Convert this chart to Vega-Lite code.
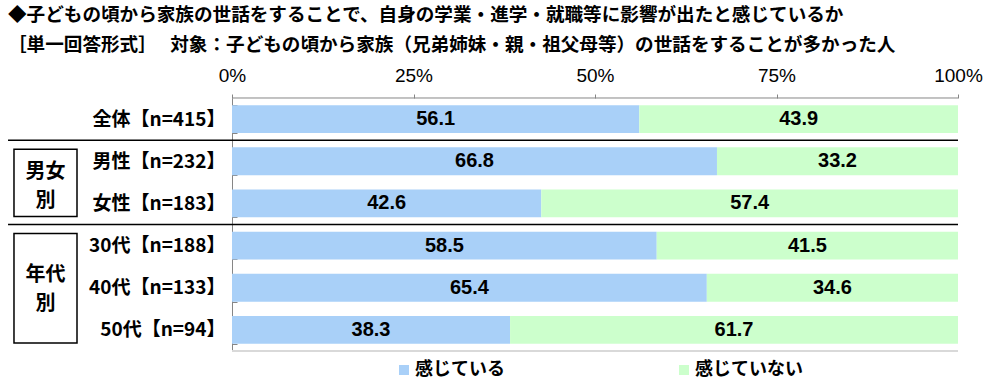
{
  "$schema": "https://vega.github.io/schema/vega-lite/v6.json",
  "width": 952,
  "height": 253,
  "autosize": {"type": "none"},
  "padding": {"left": 6, "top": 98, "right": 42, "bottom": 37},
  "background": "white",
  "title": {
    "text": ["◆子どもの頃から家族の世話をすることで、自身の学業・進学・就職等に影響が出たと感じているか", "［単一回答形式］　 対象：子どもの頃から家族（兄弟姉妹・親・祖父母等）の世話をすることが多かった人"],
    "anchor": "start",
    "frame": "group",
    "font": "Noto Sans CJK JP",
    "fontSize": 18.6,
    "fontWeight": "bold",
    "lineHeight": 30,
    "offset": 11,
    "dx": 2,
    "color": "black"
  },
  "config": {"view": {"stroke": null}, "font": "Noto Sans CJK JP"},
  "datasets": {
    "main": [
      {"c": "全体【n=415】", "r": "感じている", "v": 56.1},
      {"c": "全体【n=415】", "r": "感じていない", "v": 43.9},
      {"c": "男性【n=232】", "r": "感じている", "v": 66.8},
      {"c": "男性【n=232】", "r": "感じていない", "v": 33.2},
      {"c": "女性【n=183】", "r": "感じている", "v": 42.6},
      {"c": "女性【n=183】", "r": "感じていない", "v": 57.4},
      {"c": "30代【n=188】", "r": "感じている", "v": 58.5},
      {"c": "30代【n=188】", "r": "感じていない", "v": 41.5},
      {"c": "40代【n=133】", "r": "感じている", "v": 65.4},
      {"c": "40代【n=133】", "r": "感じていない", "v": 34.6},
      {"c": "50代【n=94】", "r": "感じている", "v": 38.3},
      {"c": "50代【n=94】", "r": "感じていない", "v": 61.7}
    ],
    "seps": [{"after": "全体【n=415】"}, {"after": "女性【n=183】"}],
    "groups": [
      {"from": "男性【n=232】", "to": "女性【n=183】"},
      {"from": "30代【n=188】", "to": "50代【n=94】"}
    ]
  },
  "data": {"name": "main"},
  "layer": [
    {
      "mark": {"type": "bar"},
      "encoding": {
        "y": {
          "field": "c",
          "type": "nominal",
          "sort": null,
          "scale": {
            "domain": ["全体【n=415】", "男性【n=232】", "女性【n=183】", "30代【n=188】", "40代【n=133】", "50代【n=94】"],
            "paddingInner": 0.34,
            "paddingOuter": 0.17
          },
          "axis": {
            "title": null,
            "offset": -226,
            "domainColor": "#868686",
            "tickColor": "#868686",
            "tickBand": "extent",
            "tickSize": -5,
            "labelPadding": 12,
            "labelFont": "Noto Sans CJK JP",
            "labelFontSize": 19,
            "labelFontWeight": "bold",
            "labelColor": "black",
            "labelLimit": 300
          }
        },
        "x": {
          "field": "v",
          "type": "quantitative",
          "stack": "zero",
          "scale": {"domain": [-31.13, 100], "nice": false, "zero": false},
          "axis": {
            "orient": "top",
            "values": [0, 25, 50, 75, 100],
            "labelExpr": "datum.value + '%'",
            "title": null,
            "domain": false,
            "grid": false,
            "tickColor": "#868686",
            "tickSize": 4,
            "labelFont": "Liberation Sans",
            "labelFontSize": 19,
            "labelColor": "black",
            "labelPadding": 9,
            "labelFlush": false
          }
        },
        "color": {
          "field": "r",
          "type": "nominal",
          "scale": {"domain": ["感じている", "感じていない"], "range": ["#A9D0F8", "#CCFFCC"]},
          "legend": {
            "orient": "none",
            "legendX": 389,
            "legendY": 263,
            "direction": "horizontal",
            "title": null,
            "symbolType": "square",
            "symbolSize": 100,
            "symbolStrokeWidth": 0,
            "labelFont": "Noto Sans CJK JP",
            "labelFontSize": 18,
            "labelFontWeight": "bold",
            "labelColor": "black",
            "labelOffset": 2,
            "columnPadding": 170
          }
        },
        "order": {"field": "r", "sort": "descending"}
      }
    },
    {
      "mark": {"type": "text", "font": "Liberation Sans", "fontSize": 20, "fontWeight": "bold", "color": "black", "align": "center", "baseline": "middle"},
      "encoding": {
        "y": {"field": "c", "type": "nominal", "sort": null},
        "x": {"field": "v", "type": "quantitative", "stack": "zero", "bandPosition": 0.5},
        "detail": {"field": "r"},
        "order": {"field": "r", "sort": "descending"},
        "text": {"field": "v", "type": "quantitative", "format": ".1f"}
      }
    },
    {
      "data": {"name": "seps"},
      "mark": {"type": "rule", "color": "black", "strokeWidth": 1.5},
      "encoding": {
        "y": {"field": "after", "type": "nominal", "bandPosition": 1.2576},
        "x": {"datum": -30.85, "type": "quantitative"},
        "x2": {"datum": 100}
      }
    },
    {
      "data": {"values": [{}]},
      "mark": {"type": "rule", "color": "#868686", "strokeWidth": 1},
      "encoding": {
        "y": {"datum": "全体【n=415】", "type": "nominal", "bandPosition": -0.2576},
        "x": {"datum": 0, "type": "quantitative"},
        "x2": {"datum": 100}
      }
    },
    {
      "data": {"values": [{}]},
      "mark": {"type": "rule", "color": "#D9D9D9", "strokeWidth": 2},
      "encoding": {
        "y": {"datum": "50代【n=94】", "type": "nominal", "bandPosition": 1.2576},
        "x": {"datum": 0, "type": "quantitative"},
        "x2": {"datum": 100}
      }
    },
    {
      "data": {"name": "groups"},
      "mark": {"type": "rect", "fill": "white", "stroke": "black", "strokeWidth": 1.5},
      "encoding": {
        "y": {"field": "from", "type": "nominal", "bandPosition": 0.07},
        "y2": {"field": "to", "bandPosition": 0.97},
        "x": {"datum": -30.03, "type": "quantitative"},
        "x2": {"datum": -21.35}
      }
    },
    {
      "data": {"values": [{"g": "男女\n別", "at": "女性【n=183】"}]},
      "mark": {"type": "text", "lineBreak": "\n", "font": "Noto Sans CJK JP", "fontSize": 20, "fontWeight": "bold", "lineHeight": 29, "align": "center", "baseline": "middle", "color": "black"},
      "encoding": {
        "y": {"field": "at", "type": "nominal", "bandPosition": -0.63},
        "x": {"datum": -25.69, "type": "quantitative"},
        "text": {"field": "g"}
      }
    },
    {
      "data": {"values": [{"g": "年代\n別", "at": "40代【n=133】"}]},
      "mark": {"type": "text", "lineBreak": "\n", "font": "Noto Sans CJK JP", "fontSize": 20, "fontWeight": "bold", "lineHeight": 29, "align": "center", "baseline": "middle", "color": "black"},
      "encoding": {
        "y": {"field": "at", "type": "nominal", "bandPosition": 0.04},
        "x": {"datum": -25.69, "type": "quantitative"},
        "text": {"field": "g"}
      }
    }
  ]
}
